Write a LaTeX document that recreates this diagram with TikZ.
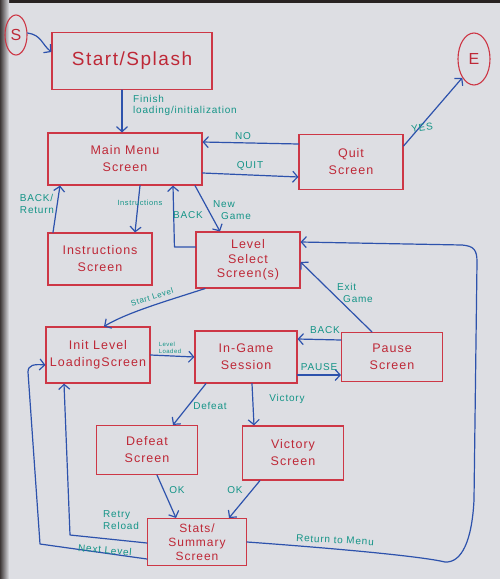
\documentclass[tikz,border=0pt]{standalone}
\usepackage{fontspec}
\setmainfont{Liberation Sans}
\newfontfamily\hand[LetterSpace=8]{Liberation Sans}
\usetikzlibrary{arrows.meta,shapes.geometric}
\definecolor{board}{RGB}{221,222,227}
\definecolor{boxred}{RGB}{205,55,70}
\definecolor{txtred}{RGB}{190,40,55}
\definecolor{arrblue}{RGB}{45,82,172}
\definecolor{labteal}{RGB}{20,148,135}
\definecolor{frame}{RGB}{40,34,34}
\tikzset{
  state/.style={draw=boxred, line width=1.1pt, rectangle, inner sep=0pt, align=center,
    text=txtred, font=\hand\fontsize{12.5}{17}\selectfont},
  term/.style={draw=boxred, line width=1.1pt, ellipse, inner sep=0pt, text=txtred,
    font=\hand\fontsize{16}{16}\selectfont},
  arr/.style={draw=arrblue, line width=1.2pt, line cap=round, line join=round,
    -{Straight Barb[length=5pt,width=11pt,line width=1.2pt]}},
  lab/.style={text=labteal, font=\hand\fontsize{10}{11.5}\selectfont, inner sep=0pt, align=left},
}
\begin{document}
\begin{tikzpicture}[x=1pt,y=-1pt]
\useasboundingbox (0,0) rectangle (500,579);
% whiteboard
\fill[board] (0,0) rectangle (500,579);
\fill[frame] (0,0) rectangle (500,3);
\shade[left color=frame!90, right color=board] (0,0) rectangle (9,579);

% terminals
\node[term, minimum width=22pt, minimum height=40pt] (S) at (16,35) {S};
\node[term, minimum width=32pt, minimum height=52pt] (E) at (474,59) {E};

% states
\node[state, minimum width=160pt, minimum height=57pt, font=\hand\fontsize{19}{20}\selectfont] (start) at (132,61) {Start/Splash};
\node[state, minimum width=154pt, minimum height=52pt] (main) at (125,159) {Main Menu\\Screen};
\node[state, minimum width=104pt, minimum height=55pt] (quit) at (351,162) {Quit\\Screen};
\node[state, minimum width=104pt, minimum height=52pt] (instr) at (100,259) {Instructions\\Screen};
\node[state, minimum width=104pt, minimum height=56pt, font=\hand\fontsize{12.5}{14.5}\selectfont] (lsel) at (248,260) {Level\\Select\\Screen(s)};
\node[state, minimum width=104pt, minimum height=56pt] (init) at (98,355) {Init Level\\LoadingScreen};
\node[state, minimum width=102pt, minimum height=52pt] (ingame) at (246,357) {In-Game\\Session};
\node[state, minimum width=101pt, minimum height=49pt] (pause) at (392,357) {Pause\\Screen};
\node[state, minimum width=101pt, minimum height=49pt] (defeat) at (147,450) {Defeat\\Screen};
\node[state, minimum width=101pt, minimum height=54pt] (victory) at (293,453) {Victory\\Screen};
\node[state, minimum width=99pt, minimum height=47pt, font=\hand\fontsize{12}{14}\selectfont] (stats) at (197,542) {Stats/\\Summary\\Screen};

% connectors
\draw[arr] (S.10) .. controls +(14,2) and +(-10,-8) .. ([yshift=9pt]start.west);
\draw[arr] ([xshift=-10pt]start.south) -- ([xshift=-3pt]main.north);
\draw[arr] ([yshift=18pt]quit.west) -- ([yshift=17pt]main.east);
\draw[arr] ([yshift=-14pt]main.east) -- ([yshift=-15pt]quit.west);
\draw[arr] ([yshift=16pt]quit.east) -- (E.south west);
\draw[arr] ([xshift=-47pt]instr.north) -- ([xshift=-65pt]main.south);
\draw[arr] ([xshift=15pt]main.south) -- ([xshift=35pt]instr.north);
\draw[arr] ([yshift=13pt]lsel.west) -- ++(-21,0) -- ([xshift=48pt]main.south);
\draw[arr] ([xshift=70pt]main.south) -- ([xshift=-28pt]lsel.north);
\draw[arr] ([xshift=-43pt]lsel.south) .. controls (170,300) and (128,312) .. ([xshift=6pt]init.north);
\draw[arr] (init.east) -- (ingame.west);
\draw[arr] ([yshift=17pt]pause.west) -- ([yshift=18pt]ingame.east);
\draw[arr] ([yshift=-18pt]ingame.east) -- ([yshift=-18pt]pause.west);
\draw[arr] ([xshift=-20pt]pause.north) -- ([yshift=-2pt]lsel.east);
\draw[arr] (stats.east) .. controls (330,548) and (420,556) .. (445,562)
  .. controls (462,563) and (472,540) .. (474,500) -- (477,262)
  .. controls (477,250) and (474,246) .. (462,245) -- ([yshift=18pt]lsel.east);
\draw[arr] ([xshift=-40pt]ingame.south) -- ([xshift=26pt]defeat.north);
\draw[arr] ([xshift=6pt]ingame.south) -- ([xshift=-39pt]victory.north);
\draw[arr] ([xshift=10pt]defeat.south) -- ([xshift=-21pt]stats.north);
\draw[arr] ([xshift=-33pt]victory.south) -- ([xshift=32pt]stats.north);
\draw[arr] ([yshift=-1pt]stats.west) -- (70,535) -- ([xshift=-34pt]init.south);
\draw[arr] ([yshift=-17pt]stats.west) -- (40,544) -- (28,372)
  .. controls (28,365) and (34,364) .. ([yshift=-10pt]init.west);

% labels
\node[lab, anchor=north west] (lfin) at (133,95) {Finish\\loading/initialization};
\node[lab] (lno) at (243,136) {NO};
\node[lab] (lquit) at (250,166) {QUIT};
\node[lab, rotate=8] (lyes) at (422,128) {YES};
\node[lab] (lback1) at (37,204) {BACK/\\Return};
\node[lab, font=\hand\fontsize{7.5}{9}\selectfont] (linstr) at (140,203) {Instructions};
\node[lab] (lback2) at (188,215) {BACK};
\node[lab] (lnew) at (232,210) {New\\\hspace*{8pt}Game};
\node[lab, rotate=18, font=\hand\fontsize{8}{9}\selectfont] (lstart) at (152,297) {Start Level};
\node[lab, font=\hand\fontsize{6}{6.5}\selectfont] (lloaded) at (170,348) {Level\\Loaded};
\node[lab] (lback3) at (325,330) {BACK};
\node[lab] (lpause) at (319,367) {PAUSE};
\node[lab] (lexit) at (355,293) {Exit\\\hspace*{6pt}Game};
\node[lab] (ldef) at (210,406) {Defeat};
\node[lab] (lvic) at (287,399) {Victory};
\node[lab] (lok1) at (177,490) {OK};
\node[lab] (lok2) at (235,490) {OK};
\node[lab] (lretry) at (121,520) {Retry\\Reload};
\node[lab, rotate=-5] (lnext) at (105,550) {Next Level};
\node[lab, rotate=-3] (lret) at (335,540) {Return to Menu};
\end{tikzpicture}
\end{document}
